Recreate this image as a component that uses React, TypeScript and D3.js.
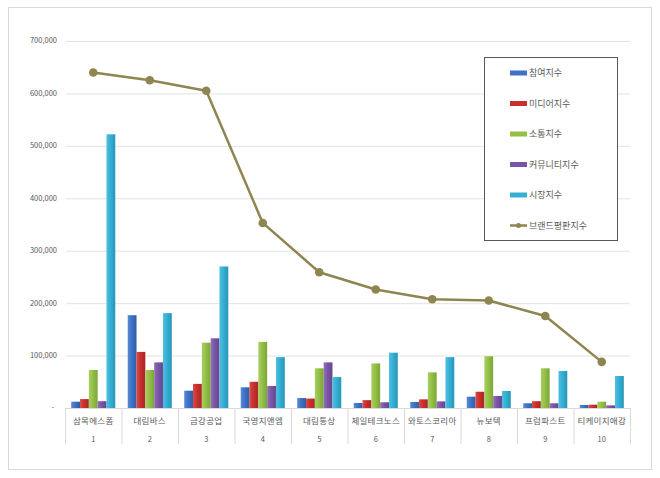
import { scaleBand, scaleLinear, line as d3Line, format } from "d3"

const companies = ["삼목에스폼", "대림바스", "금강공업", "국영지앤엠", "대림통상", "제일테크노스", "와토스코리아", "뉴보텍", "프럼파스트", "티케이지애강"]
const ranks = ["1", "2", "3", "4", "5", "6", "7", "8", "9", "10"]

const participation = [12000, 177000, 33000, 39500, 19000, 9500, 11500, 21600, 9000, 5700]
const media = [17000, 107000, 46000, 50000, 18000, 15000, 16500, 31000, 13000, 6300]
const communication = [72500, 72500, 124600, 126000, 75700, 85000, 68000, 98600, 75700, 12000]
const community = [13000, 87000, 133000, 42000, 87000, 11000, 12700, 23000, 9000, 5000]
const market = [522000, 181000, 270000, 97000, 59000, 105500, 97000, 32400, 70600, 61000]
const brandIndex = [640000, 625000, 605000, 353000, 259000, 226000, 207500, 205000, 175500, 88000]

const yTicks = [0, 100000, 200000, 300000, 400000, 500000, 600000, 700000]

const barSeries = [
  { key: "participation", label: "참여지수", values: participation, color: "#3d72c6", light: "#5a8ad6", dark: "#2f5ea8" },
  { key: "media", label: "미디어지수", values: media, color: "#c9302d", light: "#d94a45", dark: "#a82622" },
  { key: "communication", label: "소통지수", values: communication, color: "#93c047", light: "#a8cf62", dark: "#7ba535" },
  { key: "community", label: "커뮤니티지수", values: community, color: "#7b55a5", light: "#9170b8", dark: "#654590" },
  { key: "market", label: "시장지수", values: market, color: "#35afd4", light: "#4fc0e0", dark: "#2696b8" },
]
const lineLabel = "브랜드평판지수"
const lineColor = "#8f8550"

const W = 660
const H = 478
const margin = { left: 65, right: 30, top: 41, bottom: 70 }
const plotRight = W - margin.right
const plotBottom = H - margin.bottom

export default function App() {
  const x = scaleBand<string>().domain(ranks).range([margin.left, plotRight]).padding(0)
  const bw = x.bandwidth()
  const inner = scaleBand<string>()
    .domain(barSeries.map((s) => s.key))
    .range([bw * 0.11, bw * 0.89])
    .padding(0)
  const y = scaleLinear().domain([0, 700000]).range([plotBottom, margin.top])
  const fmt = format(",")
  const font = "'Noto Sans CJK KR', 'Noto Sans', sans-serif"

  const linePath =
    d3Line<number>()
      .x((_, i) => (x(ranks[i]) ?? 0) + bw / 2)
      .y((d) => y(d))(brandIndex) ?? ""

  const legendX = 484
  const legendY = 57
  const legendRowH = 30.5

  return (
    <div style={{ position: "fixed", left: 0, top: 0, background: "#fff" }}>
      <svg width={W} height={H} viewBox={`0 0 ${W} ${H}`} style={{ display: "block", fontFamily: font }}>
        <defs>
          {barSeries.map((s) => (
            <linearGradient key={s.key} id={`grad-${s.key}`} x1="0" x2="1" y1="0" y2="0">
              <stop offset="0%" stopColor={s.light} />
              <stop offset="45%" stopColor={s.color} />
              <stop offset="100%" stopColor={s.dark} />
            </linearGradient>
          ))}
        </defs>
        <rect x={0} y={0} width={W} height={H} fill="#fff" />
        <rect x={8.5} y={7.5} width={643} height={462} fill="none" stroke="#d9d9d9" />

        {/* gridlines + y labels */}
        {yTicks.map((t) => (
          <g key={t}>
            {t > 0 && <line x1={margin.left + 1} x2={plotRight} y1={y(t) + 0.5} y2={y(t) + 0.5} stroke="#e3e3e3" />}
            <text x={t === 0 ? 54 : 57} y={y(t)} dy="0.32em" textAnchor="end" fontSize={7.5} fill="#595959">
              {t === 0 ? "-" : fmt(t)}
            </text>
          </g>
        ))}

        {/* bars */}
        {barSeries.map((s) =>
          s.values.map((v, i) => (
            <rect
              key={`${s.key}-${i}`}
              x={(x(ranks[i]) ?? 0) + (inner(s.key) ?? 0)}
              y={y(v)}
              width={inner.bandwidth()}
              height={plotBottom - y(v)}
              fill={`url(#grad-${s.key})`}
            />
          ))
        )}

        {/* category axis */}
        <line x1={margin.left} x2={plotRight} y1={plotBottom + 0.5} y2={plotBottom + 0.5} stroke="#d9d9d9" />
        {ranks.concat(["end"]).map((r, i) => {
          const xx = i < ranks.length ? x(r) ?? 0 : plotRight
          return <line key={`sep-${i}`} x1={xx + 0.5} x2={xx + 0.5} y1={plotBottom} y2={plotBottom + 36} stroke="#d9d9d9" />
        })}
        {ranks.map((r, i) => (
          <g key={`lab-${r}`}>
            <text x={(x(r) ?? 0) + bw / 2} y={plotBottom + 13} dy="0.32em" textAnchor="middle" fontSize={8.5} fill="#595959" letterSpacing={0.3}>
              {companies[i]}
            </text>
            <text x={(x(r) ?? 0) + bw / 2} y={plotBottom + 32} dy="0.32em" textAnchor="middle" fontSize={7.5} fill="#595959">
              {r}
            </text>
          </g>
        ))}

        {/* brand line */}
        <path d={linePath} fill="none" stroke={lineColor} strokeWidth={2.5} strokeLinejoin="round" />
        {brandIndex.map((v, i) => (
          <circle key={`pt-${i}`} cx={(x(ranks[i]) ?? 0) + bw / 2} cy={y(v)} r={4.3} fill={lineColor} />
        ))}

        {/* legend */}
        <rect x={legendX + 0.5} y={legendY + 0.5} width={133} height={183} fill="#fff" stroke="#595959" />
        {barSeries.map((s, i) => (
          <g key={`leg-${s.key}`} transform={`translate(${legendX}, ${legendY + 16 + i * legendRowH})`}>
            <rect x={26} y={-2.5} width={17} height={5} fill={s.color} />
            <text x={45} y={0} dy="0.35em" fontSize={9} fill="#595959">
              {s.label}
            </text>
          </g>
        ))}
        <g transform={`translate(${legendX}, ${legendY + 16 + 5 * legendRowH})`}>
          <line x1={26} x2={43} y1={0} y2={0} stroke={lineColor} strokeWidth={2.5} />
          <circle cx={34.5} cy={0} r={2.5} fill={lineColor} />
          <text x={45} y={0} dy="0.35em" fontSize={9} fill="#595959">
            {lineLabel}
          </text>
        </g>
      </svg>
    </div>
  )
}
